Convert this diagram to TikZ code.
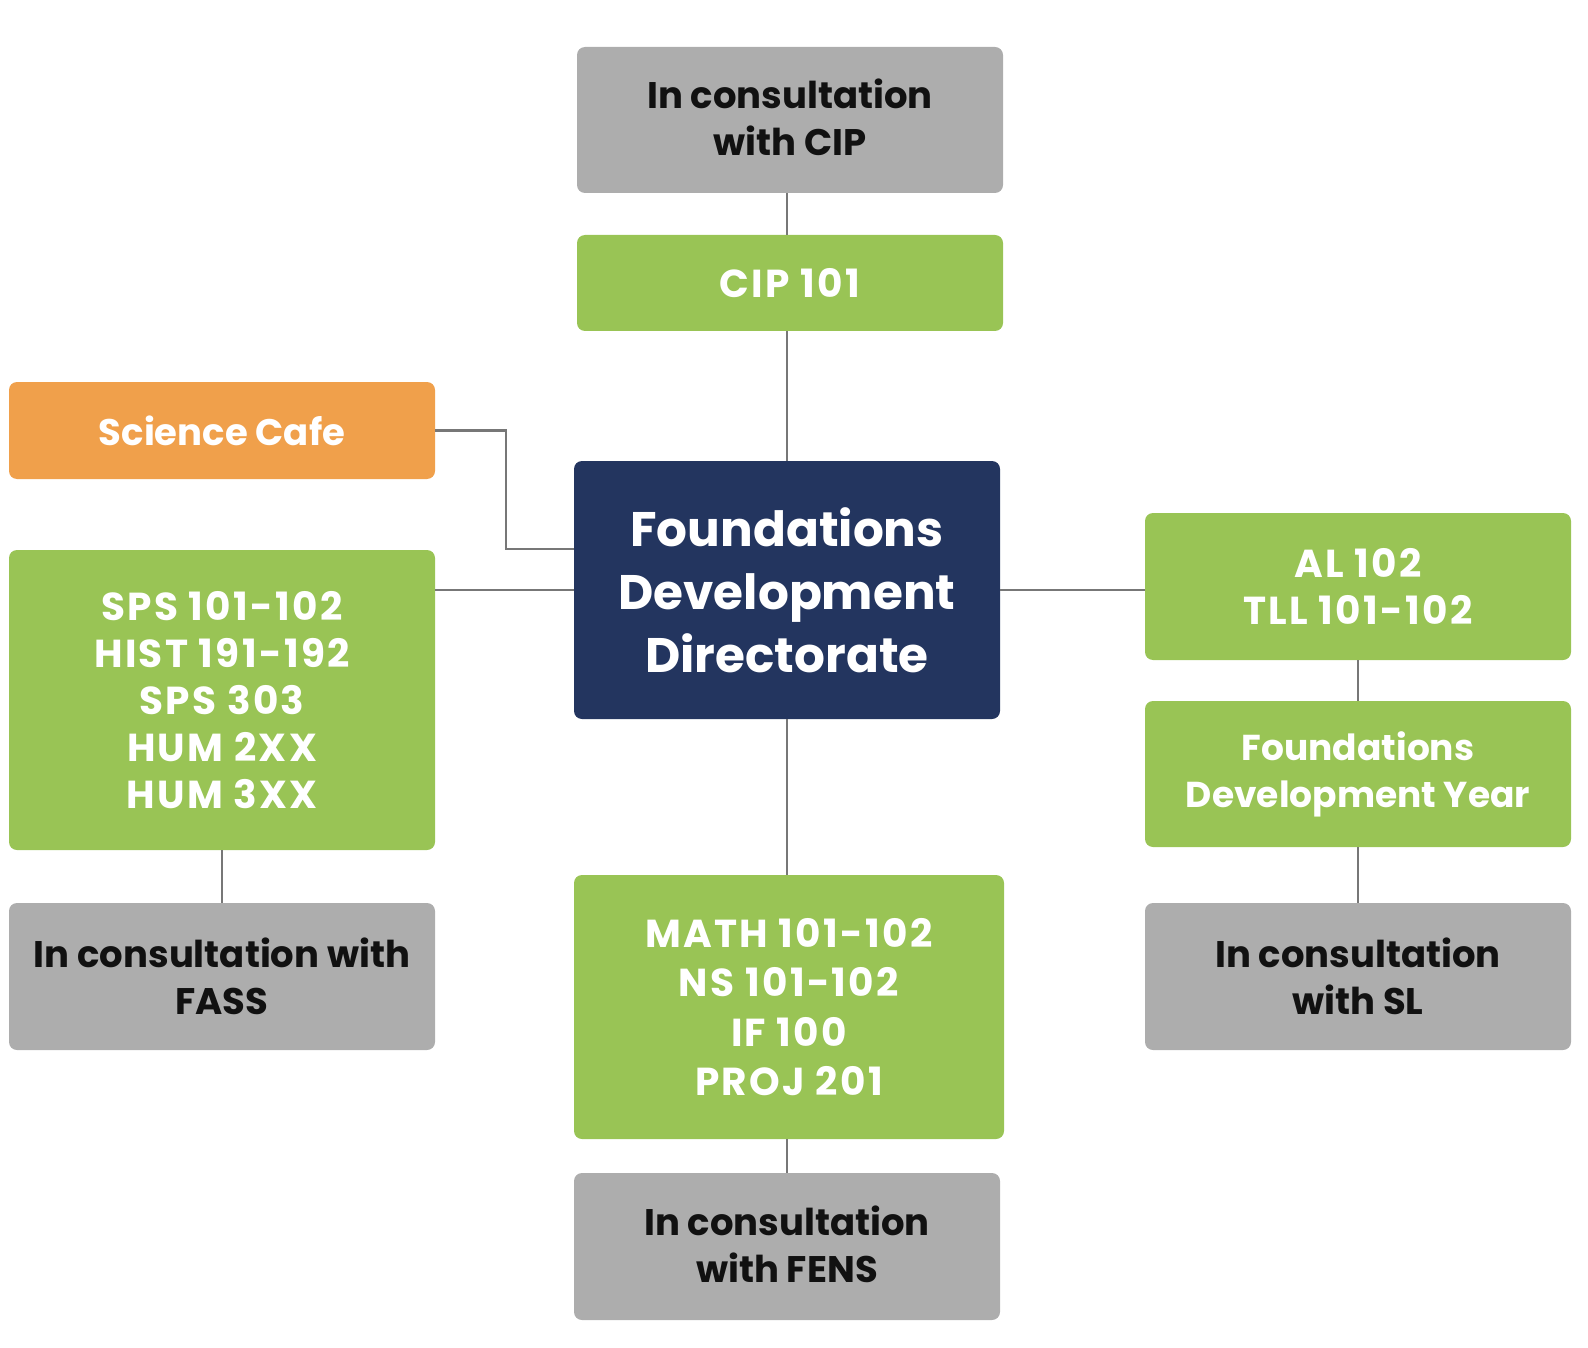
\documentclass[tikz,border=0pt]{standalone}
\usepackage{fontspec}
\setmainfont{Poppins}[Numbers=Monospaced]
\definecolor{boxgray}{HTML}{ADADAD}
\definecolor{boxgreen}{HTML}{99C455}
\definecolor{boxorange}{HTML}{F0A04B}
\definecolor{boxnavy}{HTML}{23355F}
\definecolor{linegray}{HTML}{777777}
\definecolor{txtdark}{HTML}{111111}
\newcommand{\codefont}{\addfontfeatures{LetterSpace=6}}
\begin{document}
\begin{tikzpicture}[x=1pt,y=-1pt,
  box/.style={rounded corners=8pt, inner sep=0pt, minimum width=426pt, align=center, font=\bfseries\fontsize{37}{47}\selectfont},
  graybox/.style={box, fill=boxgray, text=txtdark},
  greenbox/.style={box, fill=boxgreen, text=white},
  codebox/.style={greenbox, font=\bfseries\fontsize{39}{47}\selectfont\codefont},
  orangebox/.style={box, fill=boxorange, text=white},
  navybox/.style={box, fill=boxnavy, text=white, font=\bfseries\fontsize{48.5}{63}\selectfont},
  conn/.style={draw=linegray, line width=2.5pt}]
\useasboundingbox (0,0) rectangle (1588,1348);
\node[graybox, minimum height=146pt] (cipc) at (790,120) {\raisebox{5pt}{In consultation}\\\raisebox{5pt}{with CIP}};
\node[codebox, minimum height=96pt] (cip) at (790,283) {CIP 101};
\node[orangebox, minimum height=97pt] (sci) at (222,430.5) {Science Cafe};
\node[navybox, minimum height=258pt] (fdd) at (787,590) {Foundations\\Development\\Directorate};
\node[codebox, minimum height=300pt] (lft) at (222,700) {SPS 101-102\\HIST 191-192\\SPS 303\\HUM 2XX\\HUM 3XX};
\node[graybox, minimum height=147pt] (fass) at (222,976.5) {In consultation with\\FASS};
\node[codebox, minimum height=147pt] (al) at (1358,586.5) {AL 102\\TLL 101-102};
\node[greenbox, minimum height=146pt, font=\bfseries\fontsize{36}{47}\selectfont] (fdy) at (1358,774) {Foundations\\Development Year};
\node[graybox, minimum height=147pt] (sl) at (1358,976.5) {In consultation\\with SL};
\node[codebox, minimum height=264pt, minimum width=430pt, font=\bfseries\fontsize{39}{49.5}\selectfont\codefont] (mid) at (789,1007) {\raisebox{-5pt}{MATH 101-102}\\\raisebox{-5pt}{NS 101-102}\\\raisebox{-5pt}{IF 100}\\\raisebox{-5pt}{PROJ 201}};
\node[graybox, minimum height=147pt] (fens) at (787,1246.5) {\raisebox{4pt}{In consultation}\\\raisebox{4pt}{with FENS}};
\coordinate (scb) at (506,549);
\draw[conn] (cipc.south -| fdd.north) -- (cip.north -| fdd.north);
\draw[conn] (cip.south -| fdd.north) -- (fdd.north);
\draw[conn] (sci.east) -| (scb) -- (scb -| fdd.west);
\draw[conn] (lft.east |- fdd.west) -- (fdd.west);
\draw[conn] (fdd.east) -- (al.west |- fdd.east);
\draw[conn] (lft.south) -- (fass.north);
\draw[conn] (al.south) -- (fdy.north);
\draw[conn] (fdy.south) -- (sl.north);
\draw[conn] (fdd.south) -- (mid.north -| fdd.south);
\draw[conn] (mid.south -| fens.north) -- (fens.north);
\end{tikzpicture}
\end{document}
